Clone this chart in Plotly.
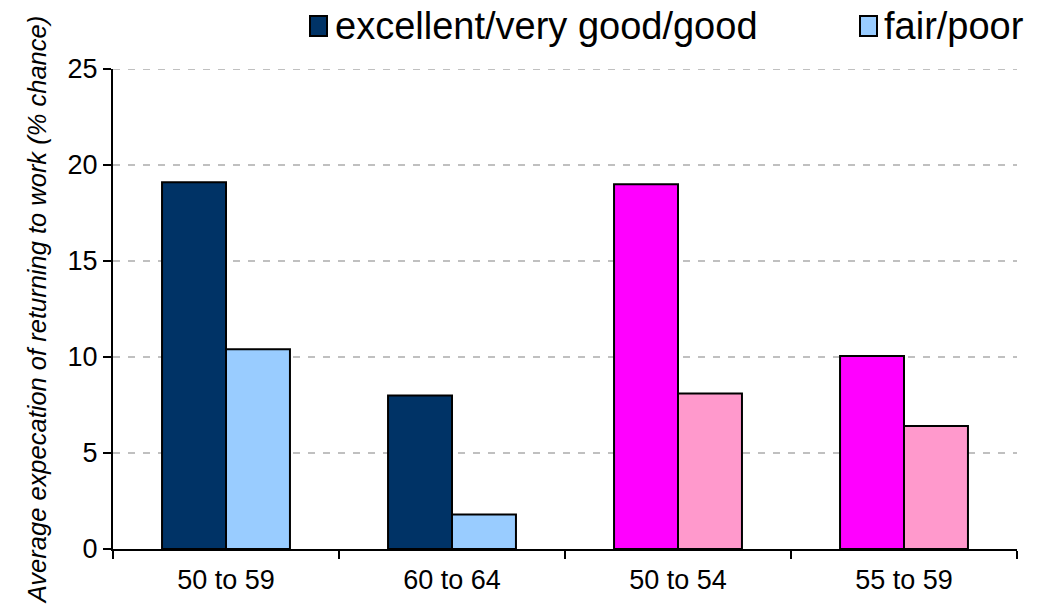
import plotly.graph_objects as go

# Age bands and self-rated health groups
age_bands = ["50 to 59", "60 to 64", "50 to 54", "55 to 59"]
good_health = [19.1, 8.0, 19.0, 10.05]
poor_health = [10.4, 1.8, 8.1, 6.4]

# First two bands in blues, last two in pinks
good_colors = ["#003366", "#003366", "#FF00FF", "#FF00FF"]
poor_colors = ["#99CCFF", "#99CCFF", "#FF99CC", "#FF99CC"]

series_names = ["excellent/very good/good", "fair/poor"]
legend_swatches = ["#003366", "#99CCFF"]

y_ticks = [0, 5, 10, 15, 20, 25]

font_family = "Liberation Sans, Arial, sans-serif"

W, H = 1040, 609
L, R, T, B = 113, 23, 69, 60
plot_w, plot_h = W - L - R, H - T - B


def px_x(px):
    return (px - L) / plot_w


def px_y(py):
    return (H - B - py) / plot_h


fig = go.Figure()
fig.add_trace(go.Bar(
    x=age_bands, y=good_health, name=series_names[0],
    marker=dict(color=good_colors, line=dict(color="black", width=2)),
))
fig.add_trace(go.Bar(
    x=age_bands, y=poor_health, name=series_names[1],
    marker=dict(color=poor_colors, line=dict(color="black", width=2)),
))

# Legend drawn as swatch boxes plus labels along the top
swatch_x = [310, 860]
text_x = [333, 882]
shapes = []
annotations = []
for name, col, sx, tx in zip(series_names, legend_swatches, swatch_x, text_x):
    shapes.append(dict(
        type="rect", xref="paper", yref="paper",
        x0=px_x(sx), x1=px_x(sx + 17), y0=px_y(36), y1=px_y(16),
        fillcolor=col, line=dict(color="black", width=2),
    ))
    annotations.append(dict(
        text=name, xref="paper", yref="paper",
        x=px_x(tx), y=px_y(26), xanchor="left", yanchor="middle",
        showarrow=False, font=dict(size=38, family=font_family, color="black"),
    ))

# Top gridline sits on the range edge, so draw it explicitly
shapes.append(dict(
    type="line", xref="paper", yref="y", layer="below",
    x0=0, x1=1, y0=y_ticks[-1], y1=y_ticks[-1],
    line=dict(color="#C0C0C0", width=2, dash="7px,8px"),
))

fig.update_layout(
    barmode="group",
    bargap=0.434,
    bargroupgap=0,
    width=W,
    height=H,
    margin=dict(l=L, r=R, t=T, b=B, autoexpand=False),
    paper_bgcolor="white",
    plot_bgcolor="white",
    font=dict(family=font_family, color="black"),
    showlegend=False,
    shapes=shapes,
    annotations=annotations,
    xaxis=dict(
        showline=True, linecolor="black", linewidth=2,
        ticks="outside", tickson="boundaries", ticklen=8, tickwidth=2, tickcolor="black",
        tickfont=dict(size=27), ticklabelstandoff=6,
        showgrid=False,
    ),
    yaxis=dict(
        range=[0, 25], tickvals=y_ticks,
        showline=True, linecolor="black", linewidth=2,
        ticks="outside", ticklen=8, tickwidth=2, tickcolor="black",
        tickfont=dict(size=27),
        showgrid=True, gridcolor="#C0C0C0", gridwidth=2, griddash="7px,8px",
        zeroline=False,
        title=dict(text="<i>Average expecation of returning to work (% chance)</i>",
                   font=dict(size=25.5), standoff=14),
    ),
)

fig.write_html("out.html")
